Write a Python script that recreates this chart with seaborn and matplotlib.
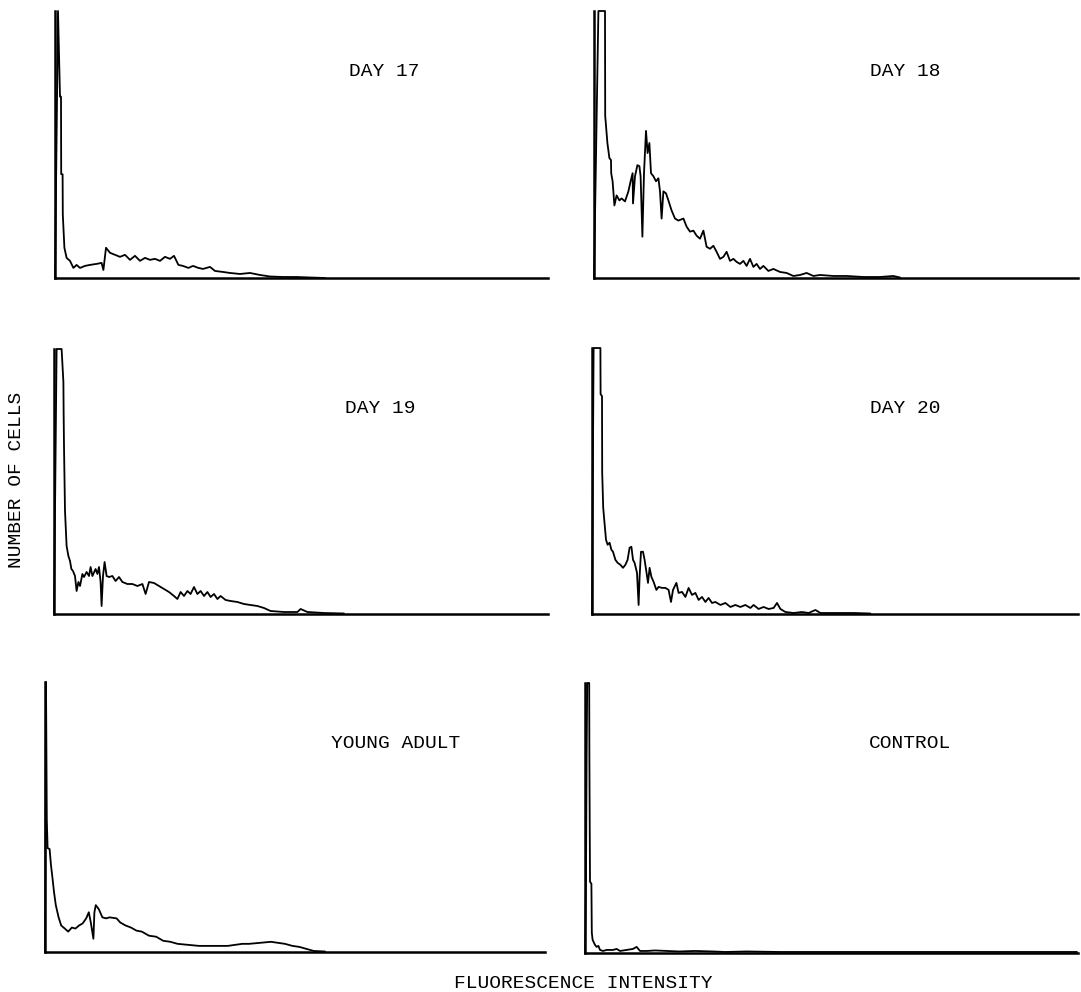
import seaborn as sns
import matplotlib.pyplot as plt

# flow cytometry histograms
# x = fluorescence channel, y = number of cells (arbitrary, 265 = top of axis)
day17_x = [0, 1.5, 2.5, 3, 3.1, 3.8, 3.9, 4.7, 5.8, 7.5, 9.2, 10.8, 12.5, 15, 17.5, 20.8, 23.3, 24.2, 25.5, 27.5,
           30, 32.5, 35, 37.5, 40, 42.5, 45, 47.5, 50, 52.5, 55, 57.5, 59.5, 61.7, 64, 66.7, 69, 71.7, 74, 77.5,
           80, 84, 87.5, 92.5, 97.5, 102.5, 107.5, 114, 120.8, 127.5, 135]
day17_y = [0, 265, 180, 180, 103, 103, 63, 30, 20, 17, 10, 13, 10, 12, 13, 14, 15, 8, 30, 25,
           23, 21, 23, 18, 22, 17, 20, 18, 19, 17, 21, 19, 22, 13, 12, 10, 12, 10, 9, 11,
           7, 6, 5, 4, 5, 3, 1.5, 1, 1, 0.5, 0]

day18_x = [0, 2.2, 5.5, 5.6, 6.7, 7.7, 8.5, 8.6, 9.3, 10.2, 11.3, 12.7, 13.8, 15.5, 17.2, 18.3, 19.3, 19.5, 20.5, 21.7,
           22.7, 23.3, 24.2, 25, 26, 26.8, 27.7, 28.5, 29.7, 31, 32.2, 33, 33.8, 34.7, 36, 37.2, 38.8, 40.5, 42.2, 44.7,
           46.3, 48, 49.7, 51.3, 53, 54.7, 56.3, 58, 59.7, 61.3, 63, 64.7, 66.3, 68, 69.7, 71.3, 73, 74.7, 76.3, 78,
           79.7, 81.3, 83, 84.7, 87.2, 89.7, 93, 96.3, 99.7, 103, 106.3, 109.7, 113, 119.7, 126.3, 134.7, 143, 149.7, 153]
day18_y = [0, 265, 265, 161, 134, 119, 117, 104, 96, 72, 82, 77, 79, 76, 86, 96, 104, 74, 101, 112,
           111, 101, 41, 104, 146, 124, 134, 104, 101, 96, 99, 86, 59, 86, 84, 77, 67, 59, 57, 59,
           51, 46, 47, 42, 39, 47, 31, 29, 32, 26, 19, 21, 26, 17, 19, 16, 14, 17, 12, 19,
           11, 14, 9, 12, 7, 9, 6, 5, 2, 3, 5, 2, 3, 2, 2, 1, 1, 2, 0.5]

day19_x = [0, 1.3, 3.8, 4.7, 4.8, 5, 5.5, 6.3, 7.2, 8, 8.7, 9.5, 10.5, 11.3, 12.2, 13, 14.2, 15, 16.3, 17.5,
           18.3, 19.2, 20.8, 21.7, 22.5, 23.3, 23.8, 24.5, 25.3, 26.3, 27.5, 29.2, 30.8, 32.5, 34.2, 36.7, 39.2, 41.7,
           44.2, 45.8, 47.5, 50, 52.5, 55, 57.5, 60, 61.7, 63.3, 65, 66.7, 68.3, 70, 71.7, 73.3, 75, 76.7, 78.3, 80,
           81.7, 83.3, 85.8, 88.3, 91.7, 95, 98.3, 101.7, 105, 108.3, 115, 121.7, 123.3, 126.7, 135, 145]
day19_y = [0, 265, 265, 232, 205, 168, 103, 68, 58, 53, 45, 43, 38, 23, 32, 28, 40, 37, 42, 38,
           47, 38, 45, 40, 47, 32, 8, 38, 52, 38, 37, 38, 33, 37, 32, 30, 30, 28,
           30, 20, 32, 31, 28, 25, 22, 18, 15, 22, 18, 23, 20, 27, 20, 23, 18, 22, 17, 20,
           15, 18, 14, 13, 12, 10, 9, 8, 6, 3, 2, 2, 5, 2, 1, 0.5]

day20_x = [0, 0.8, 4.2, 4.3, 5, 5.1, 5.6, 6.2, 7, 7.8, 8.8, 9.7, 10.5, 11.7, 12.8, 14.2, 15.5, 16.7, 17.8, 18.8,
           19.7, 20.5, 21.3, 22.5, 23.3, 23.8, 24.5, 25.5, 26.3, 27.2, 28, 28.8, 29.7, 30.8, 32.2, 33.3, 35, 36.7,
           38.3, 39.5, 40.5, 42.2, 43.3, 45, 46.7, 48.3, 50, 51.7, 53.3, 55, 56.7, 58.3, 60, 61.7, 64.2, 66.7, 69.2,
           71.7, 74.2, 76.7, 79.2, 80.8, 83.3, 85.8, 88.3, 90.8, 92.5, 94.2, 96.7, 100.8, 105, 108.3, 111.7, 114.2,
           122.5, 130.8, 139.2]
day20_y = [0, 265, 265, 219, 217, 141, 106, 92, 74, 69, 71, 64, 62, 54, 51, 49, 46, 49, 54, 66,
           67, 54, 51, 41, 9, 37, 62, 62, 54, 42, 31, 46, 37, 32, 24, 27, 26, 26,
           24, 12, 24, 31, 21, 22, 17, 26, 19, 21, 14, 17, 12, 16, 11, 12, 9, 11, 7,
           9, 7, 9, 6, 9, 5, 7, 5, 6, 11, 5, 2, 1, 2, 1, 4, 1,
           1, 1, 0.5]

young_x = [0, 0.5, 0.9, 1.3, 2.3, 3, 3.6, 4.5, 5.4, 6.8, 8.1, 9.9, 11.6, 13.4, 15.2, 17, 18.8, 20.6, 21.9, 22.9,
           24.2, 24.7, 25.4, 26.9, 28.7, 30.5, 32.3, 35.8, 37.6, 40.3, 43, 45.7, 48.4, 52, 55.6, 59.1, 62.7, 66.3,
           71.7, 77, 84.2, 91.4, 98.6, 102, 107.5, 113, 116.5, 120, 123.7, 127.2, 130.8, 134.4, 140]
young_y = [0, 265, 130, 102, 101, 85, 75, 59, 46, 34, 26, 23, 20, 24, 23, 26, 28, 33, 39, 29,
           13, 39, 46, 42, 34, 33, 34, 33, 29, 26, 24, 21, 20, 16, 15, 11, 10, 8,
           7, 6, 6, 6, 8, 8, 9, 10, 9, 8, 6, 5, 3, 1, 0.5]

control_x = [0, 0.5, 0.8, 1.1, 2.1, 2.2, 2.5, 3.2, 3.4, 3.8, 4.5, 5, 5.8, 6.7, 7.5, 9, 10.8, 14, 15.8, 17.5,
             20.8, 24, 25.8, 27.5, 31, 35, 41, 47, 55, 64, 70, 81, 97, 120, 150, 180, 210, 246]
control_y = [0, 73, 189, 265, 265, 189, 70, 68, 20, 13, 10, 8, 6, 7, 3, 2, 3, 3, 4, 2,
             3, 4, 6, 2, 2, 2.5, 2, 1.5, 2, 1.5, 1, 1.5, 1, 1, 1, 1, 1, 1]

labels = ['DAY 17', 'DAY 18', 'DAY 19', 'DAY 20', 'YOUNG ADULT', 'CONTROL']
series = [(day17_x, day17_y), (day18_x, day18_y), (day19_x, day19_y),
          (day20_x, day20_y), (young_x, young_y), (control_x, control_y)]

sns.set_style('white')
plt.rcParams['font.family'] = ['Liberation Mono', 'DejaVu Sans Mono']

W, H = 1081, 992
fig = plt.figure(figsize=(W / 100, H / 100), dpi=100)

# panel boxes in pixels: left, right, top, bottom
boxes = [(55, 548, 11, 278), (594, 1078, 11, 278),
         (54, 548, 349, 614), (592, 1078, 348, 614),
         (45, 545, 682, 952), (585, 1078, 683, 953)]
label_pos = [(384, 72), (905, 72), (380, 408), (905, 408), (396, 743), (910, 743)]

for (x, y), name, (l, r, t, b), (tx, ty) in zip(series, labels, boxes, label_pos):
    ax = fig.add_axes([l / W, 1 - b / H, (r - l) / W, (b - t) / H])
    sns.lineplot(x=x, y=y, ax=ax, color='black', linewidth=1.3,
                 estimator=None, sort=False, clip_on=False)
    ax.set_xlim(0, (r - l) / 2)
    ax.set_ylim(0, 265)
    sns.despine(ax=ax)
    for s in ['left', 'bottom']:
        ax.spines[s].set_linewidth(1.8)
        ax.spines[s].set_color('black')
    ax.set_xticks([])
    ax.set_yticks([])
    ax.set_xlabel('')
    ax.set_ylabel('')
    fig.text(tx / W, 1 - ty / H, name, ha='center', va='center', fontsize=14, color='black')

fig.text(17 / W, 1 - 480 / H, 'NUMBER OF CELLS', rotation=90, ha='center', va='center',
         fontsize=14, color='black')
fig.text(583 / W, 1 - 983 / H, 'FLUORESCENCE INTENSITY', ha='center', va='center',
         fontsize=14, color='black')

plt.savefig('out.png', dpi=100)
